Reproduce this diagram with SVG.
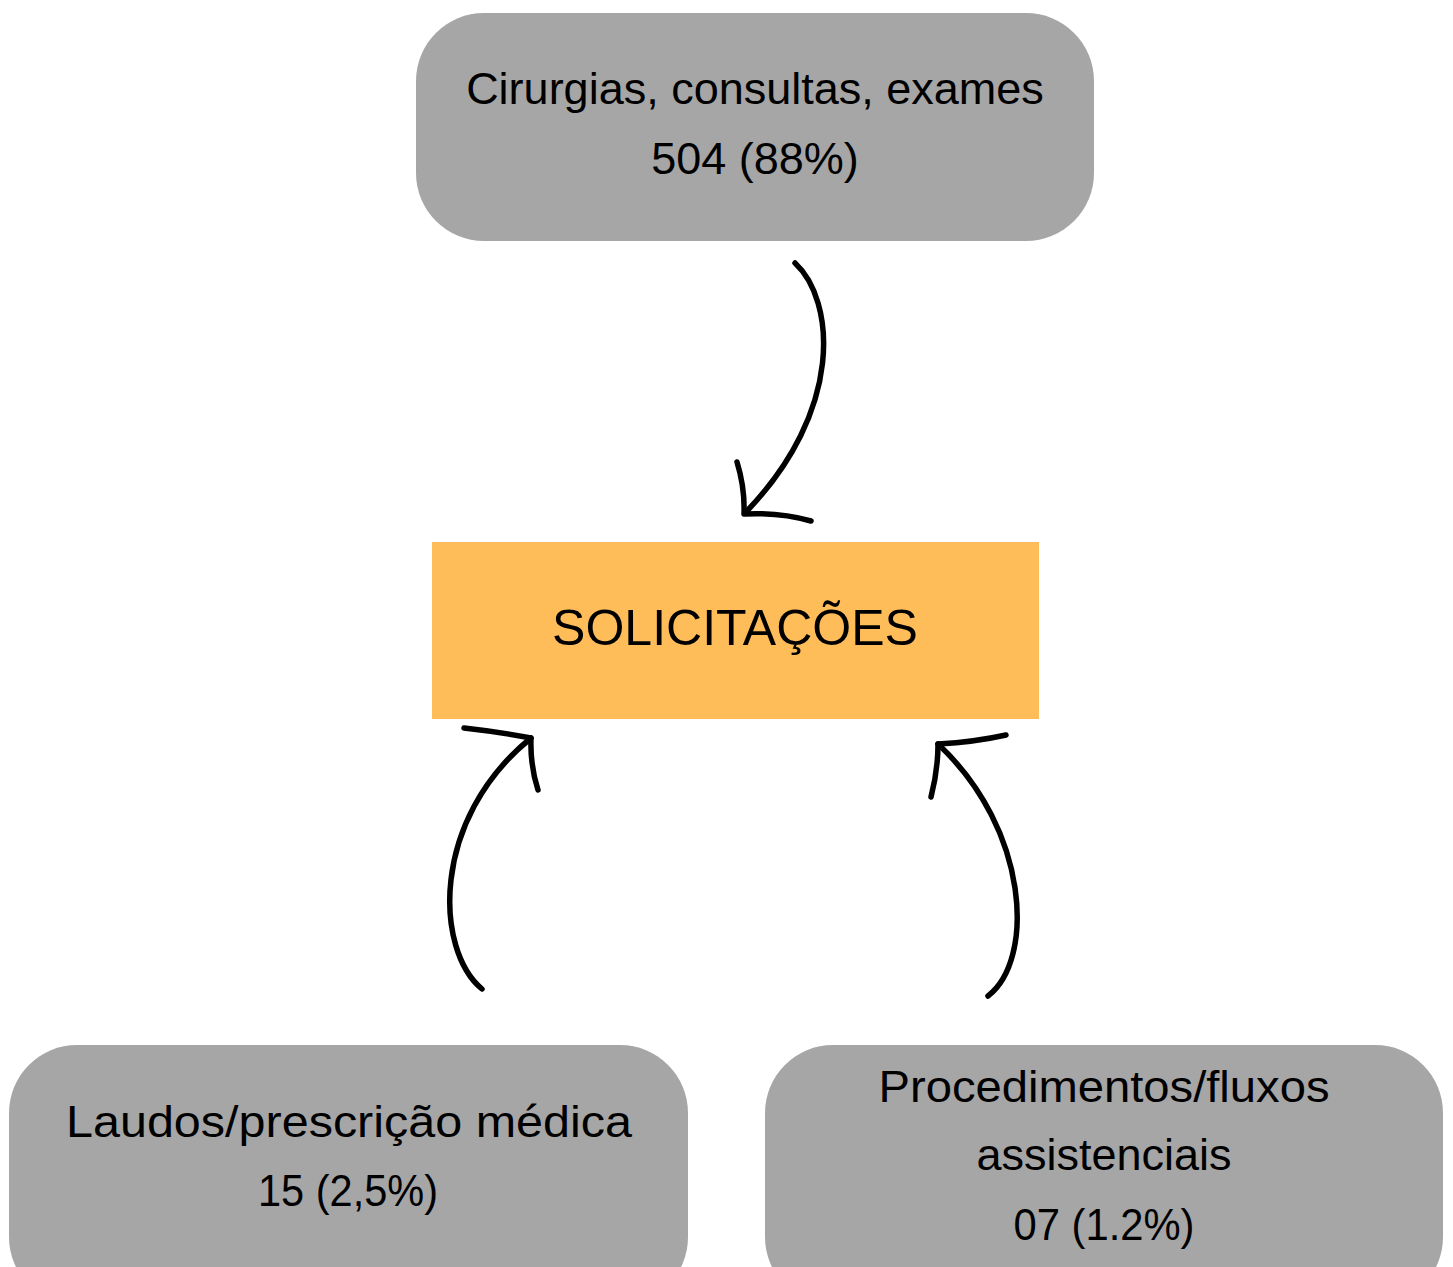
<svg xmlns="http://www.w3.org/2000/svg" width="1453" height="1267" viewBox="0 0 1453 1267">
<style>
.box{fill:#a6a6a6}
.main{fill:#ffbd59}
.t{font-family:"Liberation Sans",Arial,sans-serif;font-size:45px;fill:#000;text-anchor:middle}
.big{font-size:50px}
.arr{fill:none;stroke:#000;stroke-width:5.5;stroke-linecap:round;stroke-linejoin:round}
</style>
<rect width="1453" height="1267" fill="#fff"/>
<g id="node-top">
<rect class="box" x="416" y="13" width="678" height="228" rx="68"/>
<text class="t" x="755" y="104">Cirurgias, consultas, exames</text>
<text class="t" x="755" y="174">504 (88%)</text>
</g>
<g id="node-center">
<rect class="main" x="432" y="542" width="607" height="177"/>
<text class="t big" x="735" y="645">SOLICITAÇÕES</text>
</g>
<g id="node-left">
<rect class="box" x="9" y="1045" width="679" height="260" rx="68"/>
<text class="t" x="349" y="1137" textLength="566" lengthAdjust="spacingAndGlyphs">Laudos/prescrição médica</text>
<text class="t" x="348" y="1206" textLength="180" lengthAdjust="spacingAndGlyphs">15 (2,5%)</text>
</g>
<g id="node-right">
<rect class="box" x="765" y="1045" width="678" height="260" rx="68"/>
<text class="t" x="1104" y="1102" textLength="451" lengthAdjust="spacingAndGlyphs">Procedimentos/fluxos</text>
<text class="t" x="1104" y="1170">assistenciais</text>
<text class="t" x="1104" y="1240" textLength="181" lengthAdjust="spacingAndGlyphs">07 (1.2%)</text>
</g>
<g id="connectors">
<path class="arr" d="M795,263 C835,300 845,410 745,513"/>
<path class="arr" d="M737,462 Q745,488 744,514 Q780,512 811,521"/>
<path class="arr" d="M482,989 C435,950 430,820 531,738"/>
<path class="arr" d="M464,728 Q500,732 531,738 Q530,765 538,790"/>
<path class="arr" d="M988,996 C1035,960 1030,830 938,744"/>
<path class="arr" d="M1006,735 Q975,742 938,744 Q938,770 931,797"/>
</g>
</svg>
